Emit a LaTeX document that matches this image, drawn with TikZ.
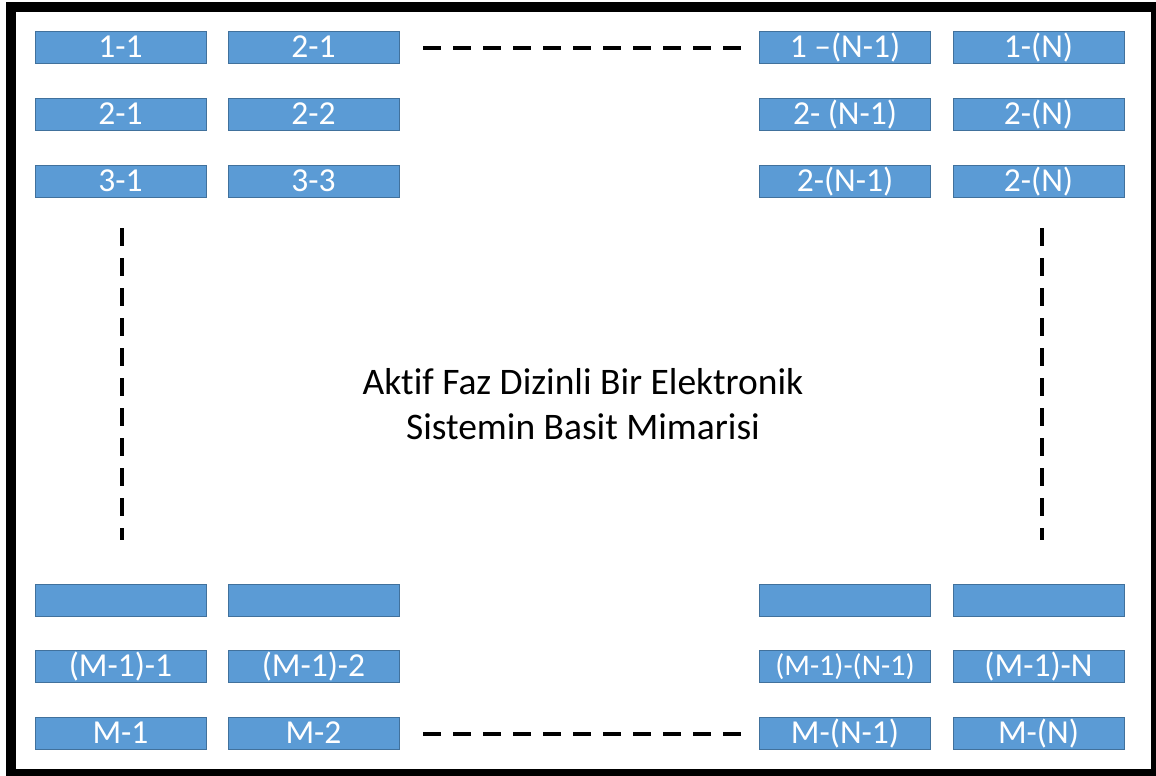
\documentclass[tikz,border=0pt]{standalone}
\usepackage{fontspec}
\setmainfont[Ligatures=NoCommon]{Carlito}
\definecolor{cellfill}{HTML}{5B9BD5}
\definecolor{celledge}{HTML}{41719C}
\begin{document}
\begin{tikzpicture}[x=1pt,y=-1pt,
  cell/.style={rectangle, fill=cellfill, draw=celledge, line width=0.8pt,
    minimum width=171pt, minimum height=32pt, inner sep=0pt,
    text=white, font=\fontsize{33.5}{33.5}\selectfont,
    text height=21pt, text depth=0pt},
  small/.style={font=\fontsize{30}{30}\selectfont, text height=19pt},
  gap/.style={line width=4pt, dash pattern=on 18pt off 12pt}]
  \useasboundingbox (0,0) rectangle (1156,776);
  % outer frame
  \draw[line width=10pt] (11,7.5) rectangle (1156,773.5);

  % top three rows
  \node[cell] (a11) at (120.5,47)  {1-1};
  \node[cell] (a12) at (313.5,47)  {2-1};
  \node[cell] (a1m) at (845,47)    {1 –(N-1)};
  \node[cell] (a1n) at (1038.5,47) {1-(N)};

  \node[cell] (a21) at (120.5,114)  {2-1};
  \node[cell] (a22) at (313.5,114)  {2-2};
  \node[cell] (a2m) at (845,114)    {2- (N-1)};
  \node[cell] (a2n) at (1038.5,114) {2-(N)};

  \node[cell] (a31) at (120.5,181)  {3-1};
  \node[cell] (a32) at (313.5,181)  {3-3};
  \node[cell] (a3m) at (845,181)    {2-(N-1)};
  \node[cell] (a3n) at (1038.5,181) {2-(N)};

  % bottom three rows
  \node[cell] (b11) at (120.5,600)  {};
  \node[cell] (b12) at (313.5,600)  {};
  \node[cell] (b1m) at (845,600)    {};
  \node[cell] (b1n) at (1038.5,600) {};

  \node[cell] (b21) at (120.5,666)  {(M-1)-1};
  \node[cell] (b22) at (313.5,666)  {(M-1)-2};
  \node[cell,small] (b2m) at (845,666) {(M-1)-(N-1)};
  \node[cell] (b2n) at (1038.5,666) {(M-1)-N};

  \node[cell] (b31) at (120.5,733)  {M-1};
  \node[cell] (b32) at (313.5,733)  {M-2};
  \node[cell] (b3m) at (845,733)    {M-(N-1)};
  \node[cell] (b3n) at (1038.5,733) {M-(N)};

  % ellipsis dashes between the shown cells
  \coordinate (t1) at (423,48); \coordinate (t2) at (741,48);
  \coordinate (u1) at (423,734); \coordinate (u2) at (741,734);
  \coordinate (l1) at (121.5,228); \coordinate (l2) at (121.5,540);
  \coordinate (r1) at (1041.5,228); \coordinate (r2) at (1041.5,540);
  \draw[gap] (t1) -- (t2);
  \draw[gap] (u1) -- (u2);
  \draw[gap] (l1) -- (l2);
  \draw[gap] (r1) -- (r2);

  % caption
  \node[align=center, font=\fontsize{37.5}{45}\selectfont] (cap) at (583,404)
    {Aktif Faz Dizinli Bir Elektronik\\Sistemin Basit Mimarisi};
\end{tikzpicture}
\end{document}
